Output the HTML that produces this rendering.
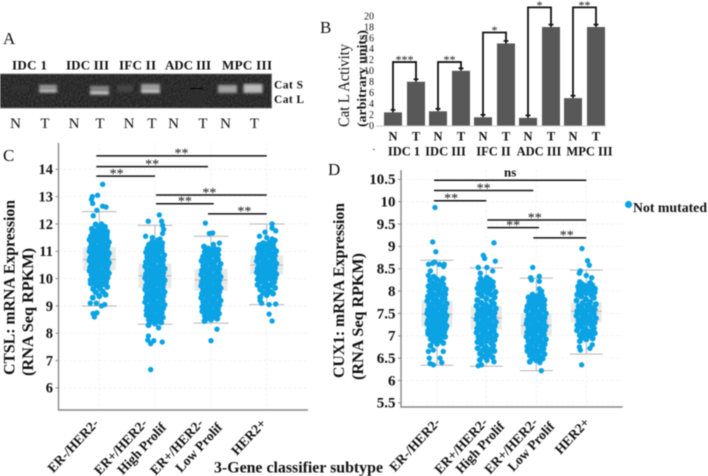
<!DOCTYPE html>
<html lang="en">
<head>
<meta charset="utf-8">
<title>Cathepsin figure</title>
<style>
html,body{margin:0;padding:0;background:#fff;width:708px;height:476px;overflow:hidden}
svg{display:block;filter:blur(.5px)}
text{font-family:"Liberation Serif",serif;fill:#111}
.b{font-weight:bold}
</style>
</head>
<body>
<svg id="figure" width="708" height="476" viewBox="0 0 708 476" xmlns="http://www.w3.org/2000/svg">
<defs>
<filter id="soft" x="-30%" y="-40%" width="160%" height="180%"><feGaussianBlur stdDeviation="1.2"/></filter>
<filter id="grain" x="0" y="0" width="100%" height="100%"><feTurbulence type="fractalNoise" baseFrequency="0.6" numOctaves="2" seed="4"/><feColorMatrix type="matrix" values="0 0 0 0 1 0 0 0 0 1 0 0 0 0 1 0 0 0 .7 -.15"/></filter>
</defs>

<g id="panel-a">
<text x="3" y="44" font-size="17">A</text>
<g class="b" font-size="13">
<text class="b" x="12" y="69.5" textLength="35">IDC 1</text>
<text class="b" x="66" y="69.5" textLength="43">IDC III</text>
<text class="b" x="119" y="69.5" textLength="37">IFC II</text>
<text class="b" x="165" y="69.5" textLength="46">ADC III</text>
<text class="b" x="222" y="69.5" textLength="50">MPC III</text>
</g>
<rect x="0" y="74" width="271.5" height="34" fill="#1c1c1c" stroke="#777" stroke-width="1"/>
<rect x="0.5" y="74.5" width="270.5" height="33" filter="url(#grain)" opacity=".38"/>
<g filter="url(#soft)">
<rect x="12" y="85" width="16" height="6" fill="#303030"/>
<rect x="39" y="85" width="18" height="3" fill="#a8a8a8"/><rect x="39" y="89" width="18" height="3.5" fill="#c4c4c4"/>
<rect x="90" y="86" width="19" height="4" fill="#8c8c8c"/><rect x="90" y="91" width="19" height="3.5" fill="#d0d0d0"/>
<rect x="117" y="85" width="16" height="7" fill="#444"/>
<rect x="141" y="84" width="19" height="5" fill="#a0a0a0"/><rect x="141" y="89.5" width="19" height="3.5" fill="#d0d0d0"/>
<rect x="191" y="92" width="12" height="14" fill="#2e2e2e"/>
<rect x="218" y="85" width="19" height="8" fill="#a2a2a2"/>
<rect x="243.5" y="84" width="19" height="9" fill="#bcbcbc"/>
</g>
<rect x="190" y="88" width="13" height="1" fill="#000"/>
<text class="b" x="274" y="88.5" font-size="11.5" textLength="29">Cat S</text>
<text class="b" x="274" y="103" font-size="11.5" textLength="30">Cat L</text>
<g font-size="15" text-anchor="middle">
<text x="15.5" y="128">N</text>
<text x="45" y="128">T</text>
<text x="74" y="128">N</text>
<text x="100" y="128">T</text>
<text x="129" y="128">N</text>
<text x="152" y="128">T</text>
<text x="173.5" y="128">N</text>
<text x="203" y="128">T</text>
<text x="225.5" y="128">N</text>
<text x="254.5" y="128">T</text>
</g>
</g>

<g id="panel-b">
<text x="320" y="33" font-size="17">B</text>
<text transform="translate(349,127) rotate(-90)" font-size="16" textLength="83" lengthAdjust="spacingAndGlyphs">Cat L Activity</text>
<text class="b" transform="translate(366,127) rotate(-90)" font-size="13" textLength="97" lengthAdjust="spacingAndGlyphs">(arbitrary  units)</text>
<text x="372" y="153" font-size="11">·</text>
</g>

<g id="panel-c">
<text x="3" y="161" font-size="17">C</text>
<text class="b" transform="translate(14.5,375) rotate(-90)" font-size="16" textLength="175" lengthAdjust="spacingAndGlyphs">CTSL: mRNA Expression</text>
<text class="b" transform="translate(33,376) rotate(-90)" font-size="16" textLength="128" lengthAdjust="spacingAndGlyphs">(RNA Seq RPKM)</text>
</g>

<g id="panel-d">
<text x="328" y="175" font-size="17">D</text>
<text class="b" transform="translate(344,378) rotate(-90)" font-size="16" textLength="175" lengthAdjust="spacingAndGlyphs">CUX1: mRNA Expression</text>
<text class="b" transform="translate(363,380) rotate(-90)" font-size="16" textLength="127" lengthAdjust="spacingAndGlyphs">(RNA Seq RPKM)</text>
<circle cx="628.5" cy="204.5" r="3.6" fill="#0ba3e4"/>
<text class="b" x="633" y="212" font-size="13.5" textLength="74" lengthAdjust="spacingAndGlyphs">Not mutated</text>
</g>

<text class="b" x="214" y="472.5" font-size="15.5" textLength="169" lengthAdjust="spacingAndGlyphs">3-Gene classifier subtype</text>

<script>
/* Panel B data */
const barGroupLabels = ['IDC 1','IDC III','IFC II','ADC III','MPC III'];
const barNormalValues = [2.4,2.6,1.5,1.4,5];
const barTumorValues = [8,10,15,18,18];
const barBracketValues = [11.6,11.6,17,21.6,21.6];
const barStars = ['***','**','*','*','**'];
const barTicks = [0,2,4,6,8,10,12,14,16,18,20];

/* Shared category labels (split across lines) */
const subtypeLabels = [['ER-/HER2-'],['ER+/HER2-','High Prolif'],['ER+/HER2-','Low Prolif'],['HER2+']];
const sigFrom = [0,0,0,1,1,2];
const sigTo = [3,2,1,3,2,3];

/* Panel C data */
const ctslTicks = [6,7,8,9,10,11,12,13,14];
const ctslQ1 = [10.3,9.65,9.55,10.15];
const ctslMedian = [10.7,10.1,9.95,10.5];
const ctslQ3 = [11.15,10.55,10.35,10.85];
const ctslWhiskerLow = [9.0,8.33,8.37,9.05];
const ctslWhiskerHigh = [12.45,11.95,11.55,12.0];
const ctslSigLevel = [14.49,14.1,13.75,13.06,12.74,12.37];
const ctslSigText = ['**','**','**','**','**','**'];
const ctslBulk1 = [9.3,9.36,9.41,9.5,9.53,9.62,9.66,9.74,9.79,9.82,9.88,9.93,9.95,10.01,10.03,10.08,10.1,10.14,10.17,10.2,10.24,10.25,10.29,10.31,10.35,10.36,10.4,10.41,10.45,10.47,10.49,10.52,10.53,10.57,10.58,10.61,10.63,10.66,10.67,10.71,10.72,10.75,10.76,10.8,10.81,10.84,10.86,10.89,10.9,10.93,10.95,10.98,11,11.03,11.05,11.08,11.1,11.13,11.15,11.19,11.2,11.25,11.27,11.31,11.33,11.38,11.4,11.45,11.48,11.53,11.55,11.61,11.63,11.69,11.72,11.79,11.87,11.98,11.42,11.5,11.58,11.65,11.7,11.75,11.82,11.9,9.7,9.85,9.9];
const ctslBulk2 = [8.3,8.36,8.4,8.46,8.49,8.55,8.58,8.63,8.67,8.7,8.75,8.78,8.83,8.86,8.9,8.93,8.97,9,9.04,9.07,9.1,9.14,9.17,9.2,9.23,9.27,9.3,9.33,9.36,9.39,9.42,9.45,9.48,9.51,9.54,9.57,9.6,9.63,9.66,9.68,9.71,9.74,9.77,9.8,9.82,9.85,9.88,9.91,9.94,9.96,9.99,10.02,10.05,10.07,10.1,10.13,10.16,10.18,10.21,10.24,10.27,10.3,10.33,10.36,10.39,10.42,10.45,10.48,10.51,10.55,10.58,10.61,10.65,10.68,10.72,10.75,10.79,10.82,10.86,10.9,10.94,10.98,11.02,11.06,11.1,11.15,11.2,11.26,11.34,11.4,8.45,8.6,8.8,8.95,10.96,11.05,11.12,11.18,11.24,11.3];
const ctslBulk3 = [8.45,8.5,8.53,8.6,8.63,8.68,8.72,8.77,8.8,8.85,8.88,8.92,8.96,9,9.03,9.07,9.1,9.14,9.17,9.2,9.24,9.27,9.3,9.33,9.36,9.39,9.42,9.45,9.48,9.51,9.54,9.57,9.6,9.62,9.65,9.68,9.71,9.74,9.76,9.79,9.82,9.85,9.87,9.9,9.93,9.96,9.98,10.01,10.04,10.07,10.09,10.12,10.15,10.18,10.21,10.24,10.27,10.3,10.33,10.36,10.4,10.43,10.47,10.5,10.54,10.58,10.62,10.66,10.7,10.75,10.8,10.85,10.9,10.96,11.02,11.1,11.17,8.55,8.75,8.95,10.65,10.78,10.88,10.98,11.06,11.12];
const ctslBulk4 = [9.32,9.4,9.48,9.52,9.6,9.66,9.7,9.77,9.82,9.87,9.93,9.97,10.02,10.06,10.1,10.14,10.18,10.21,10.25,10.29,10.32,10.36,10.39,10.42,10.46,10.49,10.52,10.55,10.58,10.61,10.64,10.67,10.7,10.73,10.76,10.79,10.82,10.85,10.88,10.92,10.95,10.98,11.01,11.05,11.08,11.12,11.15,11.19,11.23,11.28,11.33,9.45,9.62,9.75,9.9,10.0,11.1,11.17,11.25,11.3,10.08,10.16,10.23,10.3,10.38];
const ctslOut1 = [13.45,13.05,13.0,12.9,12.75,12.65,12.62,12.5,12.3,12.0,9.1,9.1,9.05,9.0,8.75,8.72,8.6];
const ctslOutJ1 = [.28,-.14,-.58,-.65,-.55,.28,.56,-.2,-.5,.18,-.75,-.25,.45,.18,-.2,-.52,-.41];
const ctslOut2 = [12.33,12.1,12.1,11.95,11.8,11.65,11.55,11.5,11.45,8.2,7.9,7.75,7.73,7.68,7.62,6.67];
const ctslOutJ2 = [.36,-.56,.55,.63,.72,.63,-.78,-.22,.42,.3,-.55,-.6,-.1,.6,-.36,-.36];
const ctslOut3 = [12.03,11.67,11.65,11.3,11.25,8.15,7.73];
const ctslOutJ3 = [-.47,.14,-.14,.7,.2,.5,0];
const ctslOut4 = [12.0,11.85,11.75,11.7,11.55,11.5,11.45,11.4,9.2,9.1,9.07,9.05,8.7,8.45];
const ctslOutJ4 = [.45,.45,.75,-.14,-.6,0,.45,.7,-.55,-.42,.75,.2,.2,.45];

/* Panel D data */
const cuxTicks = [5.5,6,6.5,7,7.5,8,8.5,9,9.5,10,10.5];
const cuxQ1 = [7.2,7.14,7.0,7.3];
const cuxMedian = [7.48,7.4,7.23,7.55];
const cuxQ3 = [7.79,7.67,7.5,7.75];
const cuxWhiskerLow = [6.34,6.32,6.22,6.59];
const cuxWhiskerHigh = [8.69,8.52,8.29,8.47];
const cuxSigLevel = [10.48,10.25,10.02,9.59,9.42,9.19];
const cuxSigText = ['ns','**','**','**','**','**'];
const cuxBulk1 = [6.78,6.84,6.88,6.93,6.95,6.98,7,7.02,7.04,7.05,7.07,7.08,7.1,7.11,7.13,7.15,7.16,7.18,7.19,7.21,7.22,7.24,7.25,7.27,7.28,7.3,7.31,7.33,7.34,7.36,7.37,7.39,7.4,7.42,7.43,7.45,7.46,7.48,7.5,7.51,7.53,7.55,7.56,7.58,7.6,7.62,7.64,7.66,7.68,7.7,7.72,7.74,7.76,7.78,7.8,7.83,7.85,7.88,7.91,7.94,7.97,8,8.04,8.07,8.11,8.15,8.2,8.26,8.32,6.82,6.9,7.86,7.93,8.02,8.09,8.13,8.18,8.24,8.28];
const cuxBulk2 = [6.46,6.5,6.54,6.58,6.62,6.66,6.69,6.72,6.75,6.78,6.81,6.83,6.86,6.88,6.91,6.93,6.95,6.97,6.99,7.01,7.03,7.05,7.07,7.09,7.11,7.13,7.15,7.17,7.19,7.21,7.23,7.25,7.27,7.29,7.31,7.33,7.35,7.37,7.39,7.41,7.43,7.45,7.47,7.49,7.51,7.53,7.55,7.57,7.59,7.61,7.63,7.65,7.67,7.7,7.72,7.74,7.77,7.8,7.83,7.86,7.89,7.92,7.95,7.98,8.01,8.04,8.08,8.12,8.16,8.2,8.25,8.3,6.52,6.6,6.68,7.96,8.06,8.1,8.14,8.18,8.22,8.28];
const cuxBulk3 = [6.42,6.45,6.49,6.52,6.56,6.59,6.62,6.65,6.68,6.71,6.74,6.76,6.79,6.81,6.84,6.86,6.88,6.9,6.92,6.94,6.96,6.98,7,7.02,7.04,7.06,7.08,7.1,7.12,7.14,7.16,7.18,7.2,7.21,7.23,7.25,7.27,7.29,7.31,7.32,7.34,7.36,7.38,7.4,7.42,7.44,7.46,7.48,7.5,7.52,7.54,7.56,7.58,7.6,7.62,7.64,7.66,7.69,7.72,7.74,7.77,7.8,7.83,7.86,7.9,7.94,6.5,6.58,6.66,6.72,7.68,7.76,7.84,7.88,7.92];
const cuxBulk4 = [6.88,6.92,6.96,7,7.03,7.06,7.09,7.12,7.15,7.17,7.2,7.22,7.24,7.27,7.29,7.31,7.33,7.35,7.37,7.39,7.41,7.43,7.45,7.47,7.49,7.51,7.53,7.55,7.57,7.59,7.61,7.64,7.66,7.68,7.71,7.73,7.76,7.79,7.82,7.85,7.88,7.92,7.95,7.99,8.03,8.07,8.11,8.15,8.2,6.94,7.01,7.08,7.9,7.97,8.05,8.1,8.13,8.18,7.98,8.01,8.09];
const cuxOut1 = [9.87,9.1,8.88,8.65,8.62,8.6,8.6,8.6,8.55,8.45,8.35,6.68,6.65,6.65,6.5,6.5,6.4,6.38,6.35];
const cuxOutJ1 = [-.17,-.36,-.1,-.2,-.36,-.7,.2,.6,.55,-.55,-.72,-.3,-.72,.52,-.64,.25,.4,-.58,-.3];
const cuxOut2 = [9.08,8.8,8.73,8.67,8.53,8.53,8.45,8.4,6.45,6.42,6.35,6.33];
const cuxOutJ2 = [.64,-.25,-.14,.75,-.67,.05,.53,-.5,.05,.64,-.4,-.67];
const cuxOut3 = [8.53,8.33,8.3,8.25,8.22,8.05,8.0,6.4,6.22];
const cuxOutJ3 = [-.3,.25,-.47,-.4,.25,.25,.45,.3,.42];
const cuxOut4 = [8.95,8.68,8.58,8.45,8.4,8.35,8.3,6.8,6.75,6.72,6.68,6.35];
const cuxOutJ4 = [-.36,.1,.25,-.5,-.58,0,.45,.5,-.58,.3,-.5,-.39];

const SVGNS = 'http://www.w3.org/2000/svg';
const JITTER_ORDER = [-1,0,.92,-.5,.5,-.86,.08,1.06,-.42,.42,-1.08,-.06,.84,-.56,.58];
const POINT_COLOR = '#0ba3e4';

function mk(parent, tag, attrs, txt){
  const el = document.createElementNS(SVGNS, tag);
  for (const k in attrs) el.setAttribute(k, attrs[k]);
  if (txt !== undefined) el.textContent = txt;
  parent.appendChild(el);
  return el;
}

/* ---------- Panel B ---------- */
(function(){
  const g = document.getElementById('panel-b');
  const yB = v => 125.5 - v * 5.47;
  const xN = i => 393 + 45 * i;
  const xT = i => 416 + 45 * i;
  barTicks.forEach(function(t){
    const el = mk(g, 'text', {x:374, y:yB(t)+3.3, 'font-size':10, 'text-anchor':'end', fill:'#222'}, String(t));
    
    
  });
  const axis = mk(g, 'line', {x1:376, x2:606, y1:126, y2:126, stroke:'#c8c8c8', 'stroke-width':1});
  
  
  barGroupLabels.forEach(function(lbl, i){
    [[xN(i), barNormalValues[i], 'N'], [xT(i), barTumorValues[i], 'T']].forEach(function(b){
      const r = mk(g, 'rect', {x:b[0]-9, y:yB(b[1]), width:18, height:125.5-yB(b[1]), fill:'#585858'});
      
      
      const cap = mk(g, 'path', {d:'M'+(b[0]-2.5)+' '+(yB(b[1])-2.5)+'h5M'+b[0]+' '+(yB(b[1])-2.5)+'v2.5', stroke:'#111', 'stroke-width':1.6, fill:'none'});
      
      
      const t = mk(g, 'text', {x:b[0], y:140.7, 'font-size':12.5, 'font-weight':'bold', 'text-anchor':'middle'}, b[2]);
      
      
    });
    const top = yB(barBracketValues[i]);
    const br = mk(g, 'path', {d:'M'+xN(i)+' '+(yB(barNormalValues[i])-1)+'V'+top+'H'+xT(i)+'V'+(yB(barTumorValues[i])-1), fill:'none', stroke:'#111', 'stroke-width':1.8});
    
    
    const st = mk(g, 'text', {x:(xN(i)+xT(i))/2, y:top+1.5, 'font-size':12, 'text-anchor':'middle', fill:'#444'}, barStars[i]);
    
    
    const gl = mk(g, 'text', {x:(xN(i)+xT(i))/2 + (i===0?-0.5:(i===1?-4:(i===2?-1:(i===3?-0.5:(i===4?5:0))))), y:155.7, 'font-size':12.5, 'font-weight':'bold', 'text-anchor':'middle'}, lbl);
    
    
  });
})();

/* ---------- Strip / box panels ---------- */
function drawPanel(cfg){
  const g = document.getElementById(cfg.id);
  const y = cfg.y;
  const x = i => cfg.cats[i];

  cfg.ticks.forEach(function(t){
    const grid = mk(g, 'line', {x1:cfg.axisX, x2:cfg.axisEnd, y1:y(t), y2:y(t), stroke:'#f0f0f0', 'stroke-width':.8, 'stroke-dasharray':'3 2'});
    
    
    const lab = mk(g, 'text', {x:cfg.axisX-5.5, y:y(t)+4.8, 'font-size':cfg.tickSize, 'font-weight':'bold', 'text-anchor':'end'}, String(t));
    
    
    const tk = mk(g, 'line', {x1:cfg.axisX-3, x2:cfg.axisX, y1:y(t), y2:y(t), stroke:'#888', 'stroke-width':1});
    
    
  });
  cfg.cats.forEach(function(cx){
    const grid = mk(g, 'line', {x1:cx, x2:cx, y1:cfg.axisTop, y2:cfg.axisBottom, stroke:'#f0f0f0', 'stroke-width':.8, 'stroke-dasharray':'3 2'});
    
    
  });

  cfg.cats.forEach(function(cx, i){
    const hw = cfg.boxHalf;
    const box = mk(g, 'rect', {x:cx-hw, y:y(cfg.q3[i]), width:hw*2, height:y(cfg.q1[i])-y(cfg.q3[i]), fill:'#e9e9e9'});
    
    
    const med = mk(g, 'line', {x1:cx-hw, x2:cx+hw, y1:y(cfg.med[i]), y2:y(cfg.med[i]), stroke:'#b5b5b5', 'stroke-width':1});
    
    
    const wh = mk(g, 'path', {d:'M'+cx+' '+y(cfg.wHigh[i])+'V'+y(cfg.q3[i])+'M'+cx+' '+y(cfg.q1[i])+'V'+y(cfg.wLow[i])+'M'+(cx-hw-1)+' '+y(cfg.wHigh[i])+'H'+(cx+hw+1)+'M'+(cx-hw-1)+' '+y(cfg.wLow[i])+'H'+(cx+hw+1), stroke:'#b5b5b5', 'stroke-width':1, fill:'none'});
    
    
  });

  cfg.cats.forEach(function(cx, i){
    const sorted = cfg.bulk[i].slice().sort(function(a,b){return a-b;});
    sorted.forEach(function(v, k){
      const rank = k / (sorted.length - 1);
      const taper = Math.min(1, .72 + 1.4 * Math.min(rank, 1 - rank));
      const p = mk(g, 'circle', {cx:cx+JITTER_ORDER[k % JITTER_ORDER.length]*cfg.spread*taper, cy:y(v), r:3, fill:POINT_COLOR});
      
      
    });
    cfg.out[i].forEach(function(v, k){
      const p = mk(g, 'circle', {cx:cx+cfg.outJ[i][k]*12, cy:y(v), r:2.7, fill:POINT_COLOR});
      
      
    });
  });

  const ax = mk(g, 'path', {d:'M'+cfg.axisX+' '+cfg.axisTop+'V'+cfg.axisBottom+'H'+cfg.axisEnd, fill:'none', stroke:'#888', 'stroke-width':1.4});
  
  

  sigFrom.forEach(function(a, i){
    const b = sigTo[i];
    const x1 = x(a) + (a === 1 ? 1 : -3);
    const x2 = x(b) + (b === 3 ? 0 : (a === 1 ? 2.7 : (b === 2 ? -3 : 0)));
    const ly = y(cfg.sig[i]);
    const line = mk(g, 'line', {x1:x1, x2:x2, y1:ly, y2:ly, stroke:'#111', 'stroke-width':1.5});
    
    
    const shifts = [0,0,-9,-2,0,7];
    const isNs = cfg.sigText[i] === 'ns';
    const t = mk(g, 'text', {x:(x1+x2)/2+shifts[i], y:ly+(isNs?-3.5:1.8), 'font-size':isNs?13:14, 'font-weight':isNs?'bold':'normal', 'text-anchor':'middle', fill:'#333'}, cfg.sigText[i]);
    
    
  });

  subtypeLabels.forEach(function(lines, i){
    lines.forEach(function(s, k){
      const dx = lines.length === 1 ? cfg.singleDx : (k === 0 ? cfg.firstDx : cfg.secondDx);
      const dy = lines.length === 1 ? cfg.labelY : (k === 0 ? cfg.labelY : cfg.labelY + 4);
      const t = mk(g, 'text', {transform:'translate('+(x(i)+dx)+','+dy+') rotate(-47)', 'font-size':13.5, 'font-weight':'bold', 'text-anchor':'end'}, s);
      
      
    });
  });
}

drawPanel({
  id:'panel-c', y:function(v){return 169.3+(14-v)*27.33;},
  cats:[99.3,155,211,266.7], axisX:58.5, axisEnd:308, axisTop:143, axisBottom:410,
  ticks:ctslTicks, tickSize:14.5, boxHalf:16.5, spread:9,
  q1:ctslQ1, med:ctslMedian, q3:ctslQ3, wLow:ctslWhiskerLow, wHigh:ctslWhiskerHigh,
  bulk:[ctslBulk1,ctslBulk2,ctslBulk3,ctslBulk4],
  out:[ctslOut1,ctslOut2,ctslOut3,ctslOut4], outJ:[ctslOutJ1,ctslOutJ2,ctslOutJ3,ctslOutJ4],
  sig:ctslSigLevel, sigText:ctslSigText,
  singleDx:0, firstDx:-7, secondDx:12, labelY:424
});
drawPanel({
  id:'panel-d', y:function(v){return 201.7+(10-v)*44.7;},
  cats:[437,486.3,536.3,586.3], axisX:401, axisEnd:622.7, axisTop:170, axisBottom:407,
  ticks:cuxTicks, tickSize:15, boxHalf:15.5, spread:9,
  q1:cuxQ1, med:cuxMedian, q3:cuxQ3, wLow:cuxWhiskerLow, wHigh:cuxWhiskerHigh,
  bulk:[cuxBulk1,cuxBulk2,cuxBulk3,cuxBulk4],
  out:[cuxOut1,cuxOut2,cuxOut3,cuxOut4], outJ:[cuxOutJ1,cuxOutJ2,cuxOutJ3,cuxOutJ4],
  sig:cuxSigLevel, sigText:cuxSigText,
  singleDx:4, firstDx:2, secondDx:19, labelY:423
});
</script>
</svg>
</body>
</html>
